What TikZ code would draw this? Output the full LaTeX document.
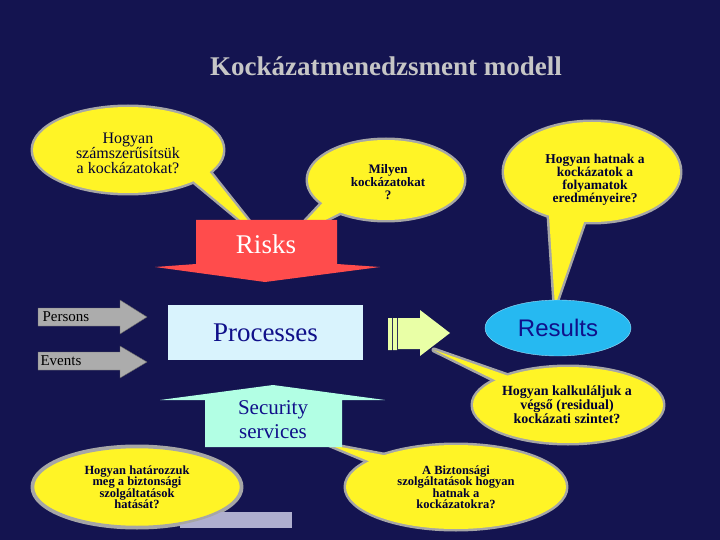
\documentclass[tikz,border=0pt]{standalone}
\usepackage{fontspec}
\usetikzlibrary{shapes.geometric}
\setmainfont{Liberation Serif}
\newfontfamily\sansf{Liberation Sans}
\begin{document}
\begin{tikzpicture}[x=1pt,y=-1pt,
  bline/.style={draw=gray!70, line width=5pt, line join=round},
  bfill/.style={fill=yellow!85!white},
  btxt/.style={align=center, text=black!80!blue},
  gar/.style={fill=gray!65, draw=black!60, line width=0.4pt}]
\definecolor{bg}{HTML}{141450}
\definecolor{navy}{HTML}{10108A}
\fill[bg] (0,0) rectangle (720,540);
\useasboundingbox (0,0) rectangle (720,540);
\node[text=gray!45!white, font=\bfseries\fontsize{27}{30}\selectfont] (title) at (386,66) {Kockázatmenedzsment modell};
% bubble outlines
\draw[bline] (128,150) ellipse[x radius=95, y radius=43];
\draw[bline] (180,170) -- (262,238) -- (200,160) -- cycle;
\draw[bline] (386,180) ellipse[x radius=78, y radius=40];
\draw[bline] (330,195) -- (290,238) -- (355,205) -- cycle;
\draw[bline] (592,172) ellipse[x radius=88, y radius=50];
\draw[bline] (548,200) -- (555,306) -- (590,205) -- cycle;
\draw[bline] (568,405) ellipse[x radius=95, y radius=38];
\draw[bline] (505,385) -- (434,350) -- (520,380) -- cycle;
\draw[bline] (137,487) ellipse[x radius=104, y radius=40];
\draw[bline] (456,487) ellipse[x radius=110, y radius=42];
\draw[bline] (390,470) -- (330,445) -- (410,460) -- cycle;
% bubble fills
\fill[bfill] (128,150) ellipse[x radius=95, y radius=43];
\fill[bfill] (180,170) -- (262,238) -- (200,160) -- cycle;
\fill[bfill] (386,180) ellipse[x radius=78, y radius=40];
\fill[bfill] (330,195) -- (290,238) -- (355,205) -- cycle;
\fill[bfill] (592,172) ellipse[x radius=88, y radius=50];
\fill[bfill] (548,200) -- (555,306) -- (590,205) -- cycle;
\fill[bfill] (568,405) ellipse[x radius=95, y radius=38];
\fill[bfill] (505,385) -- (434,350) -- (520,380) -- cycle;
\fill[bfill] (137,487) ellipse[x radius=104, y radius=40];
\fill[bfill] (456,487) ellipse[x radius=110, y radius=42];
\fill[bfill] (390,470) -- (330,445) -- (410,460) -- cycle;
% bubble texts
\node[btxt, font=\fontsize{16}{15}\selectfont] (q1) at (128,153) {Hogyan\\számszerűsítsük\\a kockázatokat?};
\node[btxt, font=\bfseries\fontsize{13}{13}\selectfont] (q2) at (388,182) {Milyen\\kockázatokat\\?};
\node[btxt, font=\bfseries\fontsize{13.5}{13}\selectfont] (q3) at (595,180) {Hogyan hatnak a\\kockázatok a\\folyamatok\\eredményeire?};
\node[btxt, font=\bfseries\fontsize{14}{14}\selectfont] (q4) at (567,405) {Hogyan kalkuláljuk a\\végső (residual)\\kockázati szintet?};
\node[btxt, font=\bfseries\fontsize{12.5}{11.5}\selectfont] (q6) at (456,487) {A Biztonsági\\szolgáltatások hogyan\\hatnak a\\kockázatokra?};
% bottom left rectangle
\fill[blue!25!gray!50!white] (180,512) rectangle (292,528);
\draw[bline, line width=2.5pt, fill=yellow!85!white] (137,487) ellipse[x radius=104, y radius=40];
\node[btxt, font=\bfseries\fontsize{12.5}{11.5}\selectfont] (q5) at (137,487) {Hogyan határozzuk\\meg a biztonsági\\szolgáltatások\\hatását?};
% Risks arrow
\fill[red!70!white] (196,220) -- (337,220) -- (337,264) -- (380,267) -- (265,282) -- (155,267) -- (196,264) -- cycle;
\node[text=white, font=\fontsize{27}{30}\selectfont] (risks) at (266,244) {Risks};
% Persons / Events
\draw[gar] (38,308) -- (120,308) -- (120,300) -- (147,317) -- (120,334) -- (120,326) -- (38,326) -- cycle;
\node[anchor=west, font=\fontsize{15}{16}\selectfont] (persons) at (39,317) {Persons};
\draw[gar] (38,352) -- (120,352) -- (120,346) -- (147,362) -- (120,378) -- (120,370) -- (38,370) -- cycle;
\node[anchor=west, font=\fontsize{15}{16}\selectfont] (events) at (37,361) {Events};
% Processes
\node[fill=cyan!15!white, minimum width=195pt, minimum height=55pt, text=navy, font=\fontsize{27}{30}\selectfont] (proc) at (265.5,332.5) {Processes};
% green arrow
\fill[green!25!yellow!35!white] (388,318) rectangle (392,350) (393,318) rectangle (397,350);
\fill[green!25!yellow!35!white] (398,318) -- (420,318) -- (420,310) -- (450,333) -- (420,356) -- (420,349) -- (398,349) -- cycle;
% Results
\node[ellipse, fill=cyan!85!white, draw=cyan!40!white, minimum width=146pt, minimum height=56pt, text=navy, font=\sansf\fontsize{24}{26}\selectfont] (res) at (558,328) {Results};
% Security services
\fill[green!35!cyan!30!white] (273,385) -- (385,400) -- (342,400) -- (342,447) -- (205,447) -- (205,400) -- (160,400) -- cycle;
\node[text=navy, align=center, font=\fontsize{21}{24}\selectfont] (sec) at (273,420) {Security\\services};
\end{tikzpicture}
\end{document}
